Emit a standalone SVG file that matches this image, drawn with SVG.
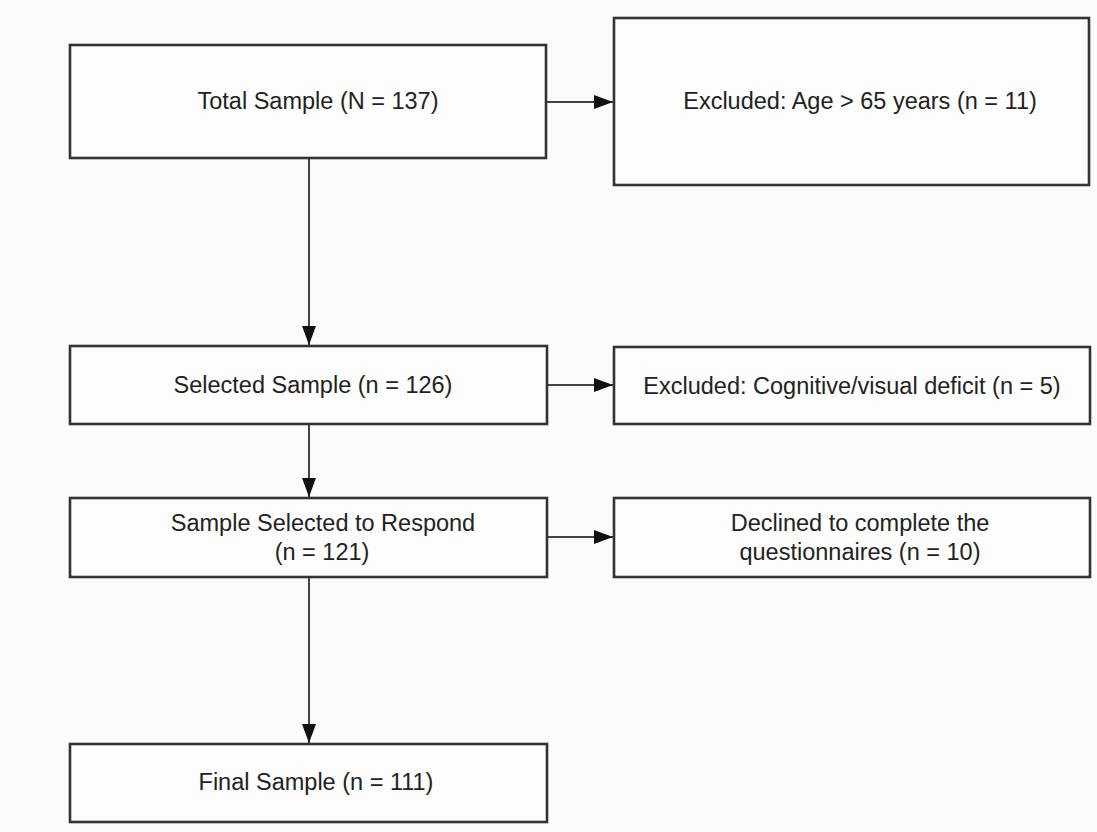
<svg xmlns="http://www.w3.org/2000/svg" width="1097" height="832" viewBox="0 0 1097 832">
  <style>
    .box { fill: #fdfdfd; stroke: #333; stroke-width: 2.6; }
    .lbl { font-family: "Liberation Sans", Arial, sans-serif; font-size: 23.5px; fill: #222; text-anchor: middle; }
    .conn { stroke: #444; stroke-width: 2; fill: none; marker-end: url(#arr); }
  </style>
  <defs>
    <marker id="arr" markerUnits="userSpaceOnUse" markerWidth="20" markerHeight="14" refX="19" refY="7" orient="auto">
      <path d="M0,0 L19,7 L0,14 Z" fill="#111"/>
    </marker>
  </defs>
  <rect x="0" y="0" width="1097" height="832" fill="#fbfbfb"/>

  <g id="connectors">
    <line class="conn" x1="547" y1="102" x2="613" y2="102"/>
    <line class="conn" x1="309" y1="158" x2="309" y2="345"/>
    <line class="conn" x1="547" y1="385" x2="613" y2="385"/>
    <line class="conn" x1="309" y1="424" x2="309" y2="497"/>
    <line class="conn" x1="547" y1="537" x2="613" y2="537"/>
    <line class="conn" x1="309" y1="577" x2="309" y2="743"/>
  </g>

  <g id="total">
    <rect class="box" x="70" y="45" width="476" height="113"/>
    <text class="lbl" x="318" y="109">Total Sample (N = 137)</text>
  </g>
  <g id="excl-age">
    <rect class="box" x="614" y="18" width="475" height="167"/>
    <text class="lbl" x="860" y="109">Excluded: Age &gt; 65 years (n = 11)</text>
  </g>
  <g id="selected">
    <rect class="box" x="70" y="346" width="477" height="78"/>
    <text class="lbl" x="313" y="393">Selected Sample (n = 126)</text>
  </g>
  <g id="excl-cog">
    <rect class="box" x="614" y="347" width="476" height="77"/>
    <text class="lbl" x="852" y="394">Excluded: Cognitive/visual deficit (n = 5)</text>
  </g>
  <g id="respond">
    <rect class="box" x="70" y="498" width="477" height="79"/>
    <text class="lbl" x="323" y="531">Sample Selected to Respond</text>
    <text class="lbl" x="322" y="560">(n = 121)</text>
  </g>
  <g id="declined">
    <rect class="box" x="614" y="498" width="476" height="79"/>
    <text class="lbl" x="860" y="531">Declined to complete the</text>
    <text class="lbl" x="860" y="560">questionnaires (n = 10)</text>
  </g>
  <g id="final">
    <rect class="box" x="70" y="744" width="477" height="78"/>
    <text class="lbl" x="316" y="790">Final Sample (n = 111)</text>
  </g>
</svg>
